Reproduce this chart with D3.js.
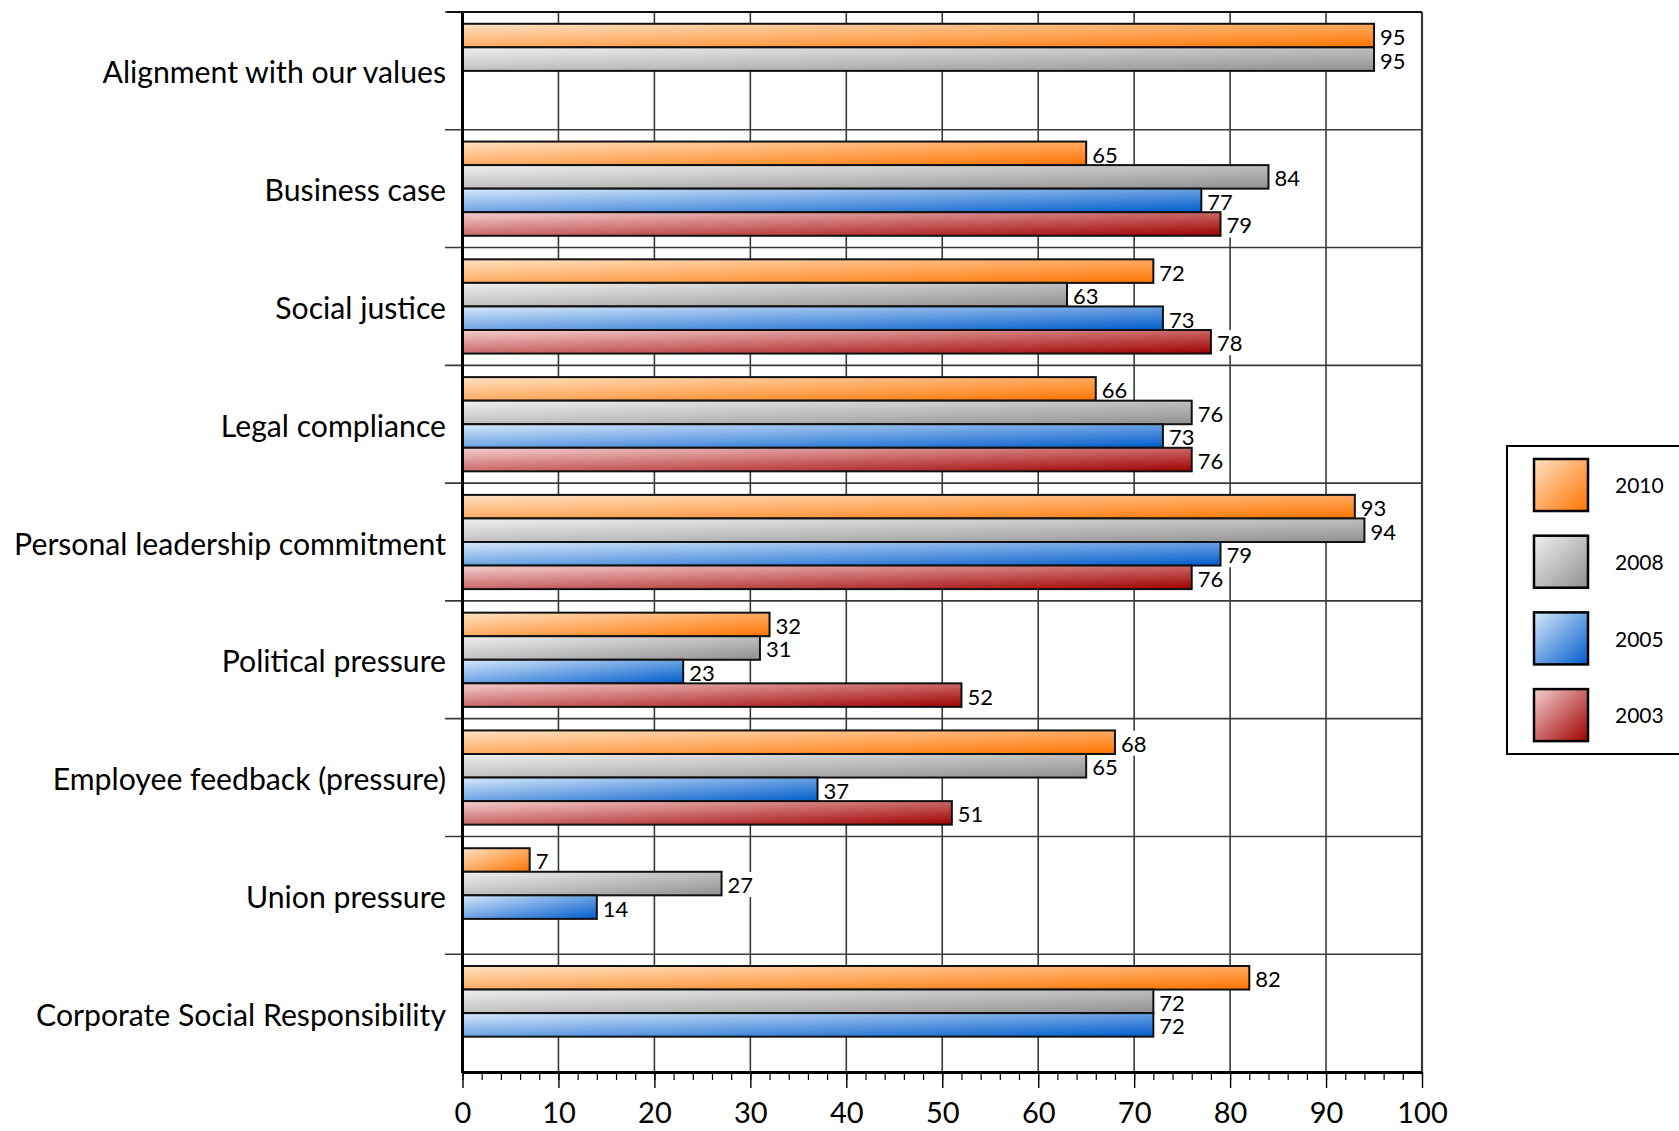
<!DOCTYPE html>
<html>
<head>
<meta charset="utf-8">
<script src="https://cdn.jsdelivr.net/npm/d3@7"></script>
<style>
  html, body { margin: 0; padding: 0; background: #fff; }
  svg { display: block; font-family: Lato, "Open Sans", sans-serif; }
</style>
</head>
<body>
<svg id="chart" width="1679" height="1131"></svg>
<script>
// Survey categories, top to bottom
const categories = [
  "Alignment with our values",
  "Business case",
  "Social justice",
  "Legal compliance",
  "Personal leadership commitment",
  "Political pressure",
  "Employee feedback (pressure)",
  "Union pressure",
  "Corporate Social Responsibility"
];

// Survey years (series), in bar order within each category
const seriesNames = ["2010", "2008", "2005", "2003"];

// Percent values per year (null = not asked that year)
const values2010 = [95, 65, 72, 66, 93, 32, 68, 7, 82];
const values2008 = [95, 84, 63, 76, 94, 31, 65, 27, 72];
const values2005 = [null, 77, 73, 73, 79, 23, 37, 14, 72];
const values2003 = [null, 79, 78, 76, 76, 52, 51, null, null];

// Axis ticks
const xTicks = [0, 10, 20, 30, 40, 50, 60, 70, 80, 90, 100];
const xMinorTicks = d3.range(0, 101, 2);

const seriesValues = {
  "2010": values2010,
  "2008": values2008,
  "2005": values2005,
  "2003": values2003
};

// Gradient colours: light corner -> saturated corner
const seriesColors = {
  "2010": ["#ffe2c4", "#ff7400"],
  "2008": ["#f0f0f0", "#909090"],
  "2005": ["#d8e9fb", "#005ccc"],
  "2003": ["#f5d0d0", "#a00000"]
};

const svg = d3.select("#chart");

const x = d3.scaleLinear().domain([0, 100]).range([462.5, 1422]);
const y = d3.scaleBand().domain(categories).range([12, 1072]).paddingInner(0).paddingOuter(0);
const ySub = d3.scaleBand().domain(seriesNames).range([0, y.bandwidth()]).paddingInner(0).paddingOuter(0.5);

// gradients
const defs = svg.append("defs");
seriesNames.forEach(s => {
  const g = defs.append("linearGradient")
    .attr("id", "grad" + s)
    .attr("x1", 0).attr("y1", 0).attr("x2", 1).attr("y2", 1);
  g.append("stop").attr("offset", "0%").attr("stop-color", seriesColors[s][0]);
  g.append("stop").attr("offset", "100%").attr("stop-color", seriesColors[s][1]);
});

const gridColor = "#3a3a3a";

// vertical gridlines
svg.append("g")
  .selectAll("line")
  .data(xTicks.slice(1))
  .join("line")
  .attr("x1", d => x(d)).attr("x2", d => x(d))
  .attr("y1", y.range()[0]).attr("y2", y.range()[1])
  .attr("stroke", gridColor)
  .attr("stroke-width", d => d === 100 ? 2.2 : 1.6);

// category separators (with small outward ticks on the left)
const sepYs = categories.map(c => y(c));
svg.append("g")
  .selectAll("line")
  .data(sepYs)
  .join("line")
  .attr("x1", 445).attr("x2", x(100))
  .attr("y1", d => d).attr("y2", d => d)
  .attr("stroke", gridColor)
  .attr("stroke-width", 1.6);

// flatten data
const bars = [];
categories.forEach((c, i) => {
  seriesNames.forEach(s => {
    const v = seriesValues[s][i];
    if (v !== null && v !== undefined) bars.push({ cat: c, series: s, value: v });
  });
});

const labelBoxes = svg.append("g");
const barLayer = svg.append("g");
const labelLayer = svg.append("g");

barLayer.selectAll("rect")
  .data(bars)
  .join("rect")
  .attr("x", x(0))
  .attr("y", d => y(d.cat) + ySub(d.series))
  .attr("width", d => x(d.value) - x(0))
  .attr("height", ySub.bandwidth())
  .attr("fill", d => "url(#grad" + d.series + ")")
  .attr("stroke", "#111")
  .attr("stroke-width", 2);

const labels = labelLayer.selectAll("text")
  .data(bars)
  .join("text")
  .attr("x", d => x(d.value) + 6)
  .attr("y", d => y(d.cat) + ySub(d.series) + ySub.bandwidth() / 2 + 1.5)
  .attr("dy", "0.36em")
  .attr("font-size", 22)
  .attr("fill", "#000")
  .text(d => d.value);

labels.each(function () {
  const b = this.getBBox();
  labelBoxes.append("rect")
    .attr("x", b.x - 2)
    .attr("y", b.y + 1)
    .attr("width", b.width + 5)
    .attr("height", b.height - 2)
    .attr("fill", "#fff");
});

// left axis line
svg.append("line")
  .attr("x1", x(0)).attr("x2", x(0))
  .attr("y1", y.range()[0] - 1).attr("y2", y.range()[1] + 1)
  .attr("stroke", "#000").attr("stroke-width", 3);

// category labels, sized so the longest fits its slot
const catLabels = svg.append("g")
  .selectAll("text")
  .data(categories)
  .join("text")
  .attr("x", 446)
  .attr("y", d => y(d) + y.bandwidth() / 2 + 2)
  .attr("dy", "0.35em")
  .attr("text-anchor", "end")
  .attr("font-size", 28)
  .attr("fill", "#000")
  .text(d => d);
let maxW = 0;
catLabels.each(function () { maxW = Math.max(maxW, this.getComputedTextLength()); });
catLabels.attr("font-size", 28 * 432 / maxW);

// bottom axis: minor ticks, then major ticks with labels
const axisY = y.range()[1];
const minorAxis = svg.append("g")
  .attr("transform", `translate(0,${axisY})`)
  .call(d3.axisBottom(x).tickValues(xMinorTicks).tickSize(8).tickFormat(""));
minorAxis.select(".domain").remove();
minorAxis.selectAll(".tick line").attr("stroke", "#000").attr("stroke-width", 1.2);

const majorAxis = svg.append("g")
  .attr("transform", `translate(0,${axisY})`)
  .call(d3.axisBottom(x).tickValues(xTicks).tickSize(16).tickSizeOuter(0).tickPadding(14));
majorAxis.select(".domain").attr("stroke", "#000").attr("stroke-width", 3);
majorAxis.selectAll(".tick line").attr("stroke", "#000").attr("stroke-width", 1.4);
majorAxis.selectAll(".tick text")
  .attr("font-family", "Lato, sans-serif")
  .attr("font-size", 29)
  .attr("fill", "#000");

// top border line
svg.append("line")
  .attr("x1", 447).attr("x2", x(100))
  .attr("y1", y.range()[0]).attr("y2", y.range()[0])
  .attr("stroke", "#111").attr("stroke-width", 2);

// legend
const legend = svg.append("g").attr("transform", "translate(1507,446)");
legend.append("rect")
  .attr("x", 0).attr("y", 0)
  .attr("width", 200).attr("height", 308)
  .attr("fill", "#fff").attr("stroke", "#000").attr("stroke-width", 2);
const legendItem = legend.selectAll("g.item")
  .data(seriesNames)
  .join("g")
  .attr("class", "item")
  .attr("transform", (d, i) => `translate(0,${13 + i * 76.7})`);
legendItem.append("rect")
  .attr("x", 27).attr("y", 0)
  .attr("width", 54).attr("height", 52)
  .attr("fill", d => "url(#grad" + d + ")")
  .attr("stroke", "#000").attr("stroke-width", 2.5);
legendItem.append("text")
  .attr("x", 108).attr("y", 27)
  .attr("dy", "0.35em")
  .attr("font-size", 21)
  .attr("fill", "#000")
  .text(d => d);
</script>
</body>
</html>
